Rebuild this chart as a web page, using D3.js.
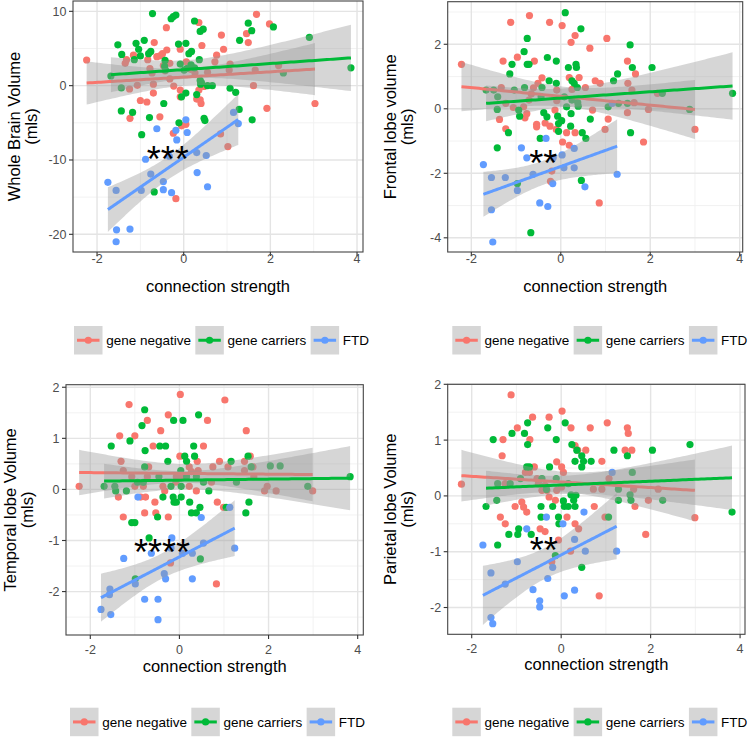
<!DOCTYPE html>
<html><head><meta charset="utf-8">
<script src="https://cdn.jsdelivr.net/npm/d3@7"></script>
<style>body{margin:0;background:#fff}svg{display:block}text{font-family:"Liberation Sans",Arial,Helvetica,sans-serif}</style>
</head><body><svg id="c" width="750" height="738"></svg>
<script>
// ---------- DATA ----------
const groups = ["gene negative", "gene carriers", "FTD"];
const colors = ["#F8766D", "#00BA38", "#619CFF"];
const xTicks = [-2, 0, 2, 4];
const xTitle = "connection strength";
const yTitles = [["Whole Brain Volume","(mls)"],["Frontal lobe volume","(mls)"],["Temporal lobe Volume","(mls)"],["Parietal lobe Volume","(mls)"]];
const yTicks1 = [-20, -10, 0, 10];
const yTicks2 = [-4, -2, 0, 2];
const yTicks3 = [-2, -1, 0, 1, 2];
const yTicks4 = [-2, -1, 0, 1, 2];
const stars = ["***", "**", "****", "**"];
const starPos = [[-0.37, -8.65], [-0.39, -1.41], [-0.39, -1.05], [-0.39, -0.82]];

// Whole brain volume
const wbvNeg = [[-2.24,3.45],[1.68,9.6],[1.98,8.3],[3.03,-2.4],[1.92,-3.05],[1.02,-8.2],[0.85,-6.5],[-0.18,-15.2],[-0.24,-6.4],[-0.05,-5.4],[0.05,-5.2],[0.35,8.5],[-0.4,7.8],[-0.68,5.8],[0.87,6.8],[0.92,4.9],[0.72,3.2],[0.76,4.1],[1.45,7.0],[1.49,5.8],[1.65,2.1],[1.61,0],[2.19,2.7],[1.07,2.9],[1.05,2.1],[0.55,1.8],[0.42,5.4],[0.38,-1.9],[0.4,-2.4],[0.3,-1.8],[0.16,2.2],[0.06,3.2],[-0.08,4.9],[-0.08,-0.6],[-0.23,-0.05],[-0.32,3.0],[-0.43,2.0],[-0.39,4.8],[-0.55,4.0],[-0.49,4.3],[-0.62,3.9],[-0.55,-4.2],[-0.7,0.2],[-0.7,-1.0],[-0.73,1.7],[-0.78,2.3],[-0.83,3.5],[-0.85,-2.2],[-1.0,-2.0],[-1.07,0.05],[-1.16,4.1],[-1.32,3.5],[-1.35,3.0],[-1.25,-0.45],[-1.24,-4.4],[-0.32,0.9],[-0.47,2.7],[0.35,-0.6],[0.47,-0.1],[0.26,1.7],[-0.08,-1.5]];
const wbvCar = [[-0.72,9.7],[-0.24,9.3],[-0.18,9.5],[-0.29,9.0],[0.25,8.7],[0.45,7.6],[0.38,7.3],[1.49,8.4],[1.57,7.4],[2.07,7.9],[2.9,6.5],[3.86,2.4],[2.3,1.7],[1.29,6.1],[1.07,-0.35],[1.2,-0.9],[1.28,-3.2],[1.58,-4.6],[0.47,-4.4],[0.49,-4.7],[0.66,0],[0.55,0],[0.38,0.7],[0.41,0.4],[0.36,3.5],[0.3,-1.2],[0.25,2.4],[0.17,2.8],[0.12,4.3],[0.18,4.6],[0.05,5.7],[-0.12,5.6],[0.07,2.3],[0.01,2.1],[0.05,-1.0],[-0.05,-1.5],[-0.08,2.9],[-0.43,3.4],[-0.44,2.6],[-0.42,2.1],[-0.46,-2.4],[-0.68,-14.3],[-0.11,-5.0],[-0.81,4.3],[-0.79,-4.3],[-0.97,-6.6],[-1.0,4.0],[-0.91,6.1],[-1.04,4.9],[-1.1,5.7],[-1.14,3.5],[-1.18,-3.6],[-1.43,4.2],[-1.52,5.5],[-1.44,-0.3],[-1.44,-3.4],[-1.68,1.3],[-0.76,4.6],[0.39,0.2]];
const wbvFtd = [[-1.75,-13.0],[-1.56,-14.1],[-1.55,-19.4],[-1.56,-21.0],[-1.24,-19.3],[-0.98,-14.1],[-0.88,-9.9],[-0.76,-11.9],[-0.62,-5.8],[-0.47,-12.9],[-0.47,-14.0],[-0.28,-14.4],[-0.33,-9.5],[-0.18,-6.0],[-0.16,-7.3],[0.05,-4.6],[0.08,-6.3],[0.3,-9.0],[0.31,-11.7],[0.52,-9.4],[0.55,-13.6],[1.15,-3.6],[1.26,-5.1]];

// Frontal lobe volume
const flNeg = [[-2.22,1.38],[-0.7,2.89],[-1.12,2.68],[-0.25,2.68],[0.03,2.58],[0.32,2.27],[0.23,2.06],[1.03,2.18],[0.65,1.88],[-1.29,1.48],[-0.97,1.6],[-0.59,1.48],[1.49,1.48],[1.67,1.08],[1.5,0.79],[1.59,0.58],[1.64,0.19],[0.77,0.87],[0.88,0.79],[0.55,0.66],[0.41,0.97],[0.19,0.97],[0.25,0.6],[0.3,0.29],[-0.09,0.58],[-0.09,0.25],[-0.13,-0.04],[-0.42,0.96],[-0.51,0.79],[-0.61,0.65],[-0.71,0.27],[-0.66,0.46],[-0.83,0.06],[-0.76,-0.15],[-0.8,-0.28],[-1.06,0.04],[-1.33,0.66],[-1.23,0.17],[-1.37,-0.33],[-1.23,-0.62],[-0.54,-0.48],[-0.54,-0.56],[-0.35,-0.44],[-0.24,-0.54],[-0.1,-0.64],[0.13,-0.74],[0.32,-0.74],[0.04,-1.03],[0.19,-1.13],[0.71,-0.04],[1.06,-0.32],[0.99,-0.64],[1.49,-0.12],[1.96,-0.02],[2.16,0.48],[3.0,-0.64],[1.85,-1.03],[0.86,-2.92],[-0.2,-1.93],[-0.23,-2.25]];
const flCar = [[0.1,2.98],[0.45,2.48],[-0.75,2.18],[-0.82,1.77],[-0.75,1.38],[-0.71,1.38],[-1.09,1.38],[-1.14,1.08],[-0.3,1.59],[-0.1,1.48],[0.17,1.28],[0.34,1.38],[0.35,1.28],[1.55,1.98],[1.6,1.28],[2.04,1.28],[1.27,1.08],[1.18,0.87],[0.25,0.87],[0.3,0.79],[0.37,0.66],[-0.26,0.87],[-0.1,0.79],[-0.42,0.66],[-0.44,0.37],[-0.81,0.66],[-1.04,0.58],[-1.67,0.58],[-1.5,0.58],[-1.41,0.37],[-1.42,-0.02],[-0.94,-0.04],[-0.92,-0.23],[-0.38,-0.12],[-0.31,-0.25],[-0.07,-0.23],[0.02,-0.37],[0.08,0.37],[0.25,0.27],[0.13,0.06],[0.38,0.19],[0.39,0.08],[0.22,-0.54],[-0.05,-0.7],[-0.05,-0.46],[0.66,-0.32],[1.06,0.06],[1.29,0.17],[1.49,0.17],[1.56,-0.74],[0.48,-0.74],[0.56,-0.92],[-0.46,-0.92],[-1.17,-0.74],[-1.42,-1.21],[-0.97,-2.32],[0.46,-2.22],[-0.67,-3.84],[2.88,-0.02],[2.27,0.48],[3.84,0.48],[0.23,-0.15]];
const flFtd = [[-1.73,-1.73],[-1.55,-2.13],[-1.24,-2.13],[-1.55,-3.13],[-1.52,-4.13],[-0.97,-2.53],[-0.88,-1.21],[-0.76,-1.52],[-0.62,-2.03],[-0.47,-2.92],[-0.29,-3.03],[-0.33,-0.92],[-0.17,-1.52],[-0.18,-2.32],[0.03,-1.43],[0.07,-1.83],[0.3,-1.83],[0.3,-1.23],[0.54,-2.42],[1.15,0.17],[1.26,-2.03]];

// Temporal lobe volume
const tlNeg = [[-2.25,0.06],[-1.13,1.66],[-1.34,1.05],[-1.0,1.05],[-0.72,1.35],[-0.25,1.46],[0.02,1.86],[1.02,1.75],[0.63,1.35],[-0.42,1.15],[-0.59,0.85],[-1.31,0.55],[-1.26,0.37],[-1.07,0.25],[-1.0,0.06],[-1.37,-0.15],[-1.26,-0.54],[-0.87,-0.15],[-0.76,-0.15],[-0.81,0.06],[-0.69,0.44],[-0.72,0.25],[-0.78,-0.46],[-0.55,-0.25],[-0.53,-0.46],[-0.25,-0.54],[-0.37,0.06],[-0.33,-0.03],[-0.07,0.25],[-0.08,0.14],[0.04,0.25],[0.01,0.65],[0.22,0.44],[0.27,0.35],[0.4,0.55],[0.42,0.37],[0.54,0.85],[0.72,0.14],[0.75,0.44],[0.9,0.55],[1.09,0.44],[0.85,-0.25],[0.99,-0.35],[1.5,1.15],[1.46,0.55],[1.46,0.37],[1.65,0.44],[1.67,0.25],[1.59,0.65],[1.91,-0.03],[1.97,0.06],[2.17,-0.03],[2.99,-0.03],[0.83,-1.85],[-0.2,-1.44],[0.38,-0.03],[0.22,0.06]];
const tlCar = [[-0.78,1.56],[-0.84,1.25],[-0.77,0.76],[-1.11,0.95],[-1.53,0.85],[-0.44,0.85],[-0.31,0.85],[-0.13,1.35],[0.08,1.35],[0.43,1.46],[0.12,0.65],[0.16,0.55],[0.32,0.85],[0.34,0.65],[-0.26,0.55],[-0.46,0.25],[-0.78,0.44],[-0.94,0.14],[-0.81,0.14],[-1.19,-0.03],[-1.45,0.06],[-1.43,-0.03],[-1.69,0.06],[-1.07,-0.65],[-1.0,-0.65],[-0.68,-0.95],[-0.49,-0.54],[-0.37,-0.15],[-0.19,0.06],[-0.14,-0.15],[-0.12,-0.25],[-0.07,-0.25],[0.04,-0.15],[0.04,0.06],[0.03,0.37],[0.16,0.25],[0.23,-0.25],[0.27,-0.46],[0.38,0.25],[0.38,-0.46],[0.46,-0.35],[0.54,0.14],[0.66,-0.03],[0.47,-1.36],[-0.99,-1.75],[1.16,0.55],[1.28,0.14],[1.05,-0.35],[1.49,-0.46],[1.56,-0.25],[1.54,0.65],[1.61,0.44],[2.04,0.46],[2.26,0.46],[2.88,0.06],[3.83,0.25]];
const tlFtd = [[-1.76,-2.35],[-1.56,-1.95],[-1.57,-2.06],[-1.54,-2.45],[-1.25,-1.35],[-0.99,-1.85],[-0.78,-2.15],[-0.63,-1.25],[-0.34,-1.65],[-0.31,-1.75],[-0.48,-2.15],[-0.48,-2.55],[-0.93,-0.15],[-0.17,-0.95],[-0.19,-1.15],[0.07,-1.25],[0.29,-1.25],[0.29,-1.75],[0.54,-1.05],[0.49,-0.55],[1.13,-0.35],[1.24,-1.15]];

// Parietal lobe volume
const plNeg = [[-2.23,0.21],[-1.12,1.81],[-0.64,1.41],[-0.27,1.41],[0.02,1.52],[1.03,1.31],[0.22,1.22],[0.65,1.22],[1.48,1.22],[1.5,1.12],[-0.98,1.22],[-1.3,1.01],[-0.7,1.01],[-1.32,0.72],[0.55,0.82],[0.31,0.9],[0.37,0.82],[-0.1,0.61],[0.01,0.52],[0.05,0.42],[0.91,0.62],[1.43,0.82],[1.58,0.82],[-0.8,0.42],[-0.71,0.42],[-0.6,0.52],[-0.54,0.31],[-0.51,0.22],[-0.43,0.1],[-0.36,0.19],[-0.32,0.1],[-0.27,-0.02],[-0.13,-0.08],[-0.1,0.1],[0.01,0.16],[-1.25,0.22],[-1.03,-0.19],[-0.88,-0.11],[-0.84,-0.2],[-0.77,-0.29],[-1.36,-0.38],[-1.25,-0.5],[-0.47,-0.59],[-0.36,-0.64],[0.13,-0.38],[0.31,-0.5],[0.39,-0.59],[0.72,0.12],[0.91,0.12],[0.74,-0.19],[0.98,-0.38],[1.07,0.31],[1.62,0.12],[1.65,-0.19],[1.95,-0.08],[2.17,0.12],[1.89,-0.69],[2.99,-0.39],[0.21,-0.99],[-0.21,-1.18],[0.85,-1.79],[-0.06,-0.79]];
const plCar = [[0.09,1.31],[-0.75,1.31],[-0.3,1.22],[-0.82,1.12],[-1.1,1.12],[-1.52,1.01],[-0.11,1.01],[-0.75,0.92],[0.24,0.92],[0.35,0.82],[0.46,0.72],[0.5,0.62],[0.31,0.62],[0.67,0.62],[0.46,0.52],[-0.77,0.52],[-0.71,0.52],[-0.26,0.52],[-0.91,0.31],[-0.43,0.31],[-0.11,0.31],[0.16,0.22],[1.18,0.82],[1.48,0.72],[1.59,0.42],[2.04,0.82],[2.88,0.92],[3.82,-0.29],[2.27,-0.08],[1.54,0.02],[1.56,-0.08],[1.28,0.12],[1.28,-0.08],[1.06,-0.38],[-1.42,0.22],[-1.14,0.22],[-1.44,-0.08],[-1.68,-0.19],[-0.95,-0.59],[-0.97,-0.69],[-1.17,-0.69],[-1.42,-0.88],[-0.67,-0.69],[-0.45,-0.19],[-0.45,-0.38],[-0.19,-0.19],[-0.06,-0.38],[-0.05,-0.5],[0.05,-0.09],[0.07,-0.19],[0.16,-0.19],[0.22,0.02],[0.28,-0.08],[0.31,-0.19],[0.33,0.01],[-0.13,-1.07],[0.46,-1.28],[-0.33,0.12]];
const plFtd = [[-1.75,-0.88],[-1.57,-1.38],[-1.25,-1.58],[-1.57,-2.18],[-1.53,-2.29],[-0.98,-1.18],[-0.77,-0.59],[-0.63,-1.68],[-0.48,-1.88],[-0.48,-1.99],[-0.3,-1.48],[-0.33,-0.38],[-0.19,-1.28],[0.04,-0.5],[0.07,-1.79],[0.3,-0.78],[0.3,-1.69],[0.51,-0.29],[0.54,-0.99],[1.14,0.42],[1.24,-0.99]];

// ---------- LAYOUT ----------
const panels = [
  {rect:[73,363,1,252], xd:[-2.555,4.138], yd:[-22.38,11.39], yt:yTicks1, ys:5, data:[wbvNeg,wbvCar,wbvFtd], xlab:263, xtit:291.5, ytx:[20,37], leg:[74,326]},
  {rect:[447.7,742.7,1.7,252], xd:[-2.528,4.067], yd:[-4.44,3.32], yt:yTicks2, ys:1, data:[flNeg,flCar,flFtd], xlab:263, xtit:291.5, ytx:[396,413], leg:[452.3,326]},
  {rect:[66,363.3,384.7,635], xd:[-2.545,4.126], yd:[-2.85,2.05], yt:yTicks3, ys:0.5, data:[tlNeg,tlCar,tlFtd], xlab:654, xtit:671.5, ytx:[15.5,32.5], leg:[70,707.7]},
  {rect:[447.7,745,384.3,634.3], xd:[-2.537,4.11], yd:[-2.48,2.0], yt:yTicks4, ys:0.5, data:[plNeg,plCar,plFtd], xlab:652.5, xtit:670, ytx:[396,413], leg:[452.3,707.7]}
];

function tq(df){const z=1.959964;return z+(z**3+z)/4/df+(5*z**5+16*z**3+3*z)/96/df**2+(3*z**7+19*z**5+17*z**3-15*z)/384/df**3;}
function fit(pts){
  const N=pts.length, mx=d3.mean(pts,d=>d[0]), my=d3.mean(pts,d=>d[1]);
  let sxx=0,sxy=0; pts.forEach(d=>{sxx+=(d[0]-mx)**2; sxy+=(d[0]-mx)*(d[1]-my);});
  const b=sxy/sxx, a=my-b*mx;
  let ss=0; pts.forEach(d=>{ss+=(d[1]-a-b*d[0])**2;});
  const s=Math.sqrt(ss/(N-2)), t=tq(N-2);
  const [x0,x1]=d3.extent(pts,d=>d[0]);
  return d3.range(81).map(i=>{const x=x0+(x1-x0)*i/80, y=a+b*x, se=s*Math.sqrt(1/N+(x-mx)**2/sxx); return {x,y,lo:y-t*se,hi:y+t*se};});
}

const svg=d3.select("#c");
svg.append("rect").attr("width",750).attr("height",738).attr("fill","#fff");

panels.forEach((p,pi)=>{
  const [L,R,T,B]=p.rect;
  const x=d3.scaleLinear().domain(p.xd).range([L,R]);
  const y=d3.scaleLinear().domain(p.yd).range([B,T]);
  const g=svg.append("g");
  const clipId="clip"+pi;
  g.append("clipPath").attr("id",clipId).append("rect").attr("x",L).attr("y",T).attr("width",R-L).attr("height",B-T);
  const xMinor=xTicks.slice(0,-1).map((v,i)=>(v+xTicks[i+1])/2).concat([xTicks[0]-1,xTicks[xTicks.length-1]+1]).filter(v=>v>p.xd[0]&&v<p.xd[1]);
  const yMinor=[];
  for(let v=p.yt[0]-p.ys; v<=p.yt[p.yt.length-1]+p.ys+1e-9; v+=2*p.ys){ if(v>p.yd[0]&&v<p.yd[1]) yMinor.push(v);}
  g.selectAll(".xm").data(xMinor).join("line").attr("x1",d=>x(d)).attr("x2",d=>x(d)).attr("y1",T).attr("y2",B).attr("stroke","#f1f1f1").attr("stroke-width",0.9);
  g.selectAll(".ym").data(yMinor).join("line").attr("y1",d=>y(d)).attr("y2",d=>y(d)).attr("x1",L).attr("x2",R).attr("stroke","#f1f1f1").attr("stroke-width",0.9);
  g.selectAll(".xg").data(xTicks).join("line").attr("x1",d=>x(d)).attr("x2",d=>x(d)).attr("y1",T).attr("y2",B).attr("stroke","#e4e4e4").attr("stroke-width",1.4);
  g.selectAll(".yg").data(p.yt).join("line").attr("y1",d=>y(d)).attr("y2",d=>y(d)).attr("x1",L).attr("x2",R).attr("stroke","#e4e4e4").attr("stroke-width",1.4);
  const plot=g.append("g").attr("clip-path",`url(#${clipId})`);
  p.data.forEach((pts,gi)=>{
    plot.append("g").selectAll("circle").data(pts).join("circle")
      .attr("cx",d=>x(d[0])).attr("cy",d=>y(d[1])).attr("r",3.6).attr("fill",colors[gi]);
  });
  p.data.forEach((pts,gi)=>{
    const f=fit(pts);
    plot.append("path").datum(f).attr("d",d3.area().x(d=>x(d.x)).y0(d=>y(d.lo)).y1(d=>y(d.hi))).attr("fill","#999999").attr("fill-opacity",0.4);
    plot.append("path").datum(f).attr("d",d3.line().x(d=>x(d.x)).y(d=>y(d.y))).attr("fill","none").attr("stroke",colors[gi]).attr("stroke-width",3);
  });
  g.append("text").attr("x",x(starPos[pi][0])).attr("y",y(starPos[pi][1])).attr("dy","0.6em").attr("text-anchor","middle").attr("font-size",36).attr("fill","#000").text(stars[pi]);
  g.append("rect").attr("x",L).attr("y",T).attr("width",R-L).attr("height",B-T).attr("fill","none").attr("stroke","#444").attr("stroke-width",1.1);
  g.selectAll(".xt").data(xTicks).join("line").attr("x1",d=>x(d)).attr("x2",d=>x(d)).attr("y1",B).attr("y2",B+4).attr("stroke","#333").attr("stroke-width",1.1);
  g.selectAll(".yt").data(p.yt).join("line").attr("y1",d=>y(d)).attr("y2",d=>y(d)).attr("x1",L-4).attr("x2",L).attr("stroke","#333").attr("stroke-width",1.1);
  g.selectAll(".xl").data(xTicks).join("text").attr("x",d=>x(d)).attr("y",p.xlab).attr("text-anchor","middle").attr("font-size",12.5).attr("fill","#4d4d4d").text(d=>d);
  g.selectAll(".yl").data(p.yt).join("text").attr("x",L-6.5).attr("y",d=>y(d)+4.4).attr("text-anchor","end").attr("font-size",12.5).attr("fill","#4d4d4d").text(d=>d);
  g.append("text").attr("x",(L+R)/2).attr("y",p.xtit).attr("text-anchor","middle").attr("font-size",16.5).attr("fill","#000").text(xTitle);
  yTitles[pi].forEach((t,li)=>{
    g.append("text").attr("transform",`translate(${p.ytx[li]},${(T+B)/2}) rotate(-90)`).attr("text-anchor","middle").attr("font-size",16.5).attr("fill","#000").text(t);
  });
  const lg=g.append("g").attr("transform",`translate(${p.leg[0]},${p.leg[1]})`);
  let cx=0; const K=28.5;
  groups.forEach((name,gi)=>{
    const it=lg.append("g").attr("transform",`translate(${cx},0)`);
    it.append("rect").attr("width",K).attr("height",K).attr("fill","#d6d6d6");
    it.append("line").attr("x1",3).attr("x2",K-3).attr("y1",K/2).attr("y2",K/2).attr("stroke",colors[gi]).attr("stroke-width",3);
    it.append("circle").attr("cx",K/2).attr("cy",K/2).attr("r",3.6).attr("fill",colors[gi]);
    const tx=it.append("text").attr("x",K+3.7).attr("y",K/2+4.8).attr("font-size",13.5).attr("fill","#000").text(name);
    cx+=K+3.7+tx.node().getComputedTextLength()+4.3;
  });
});
</script></body></html>
